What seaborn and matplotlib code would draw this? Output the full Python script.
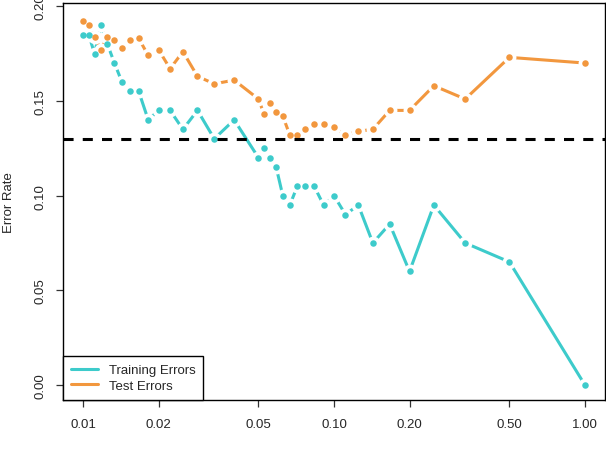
# KNN error rates versus flexibility (1/K)
import numpy as np
import pandas as pd
import seaborn as sns
import matplotlib.pyplot as plt
from matplotlib.lines import Line2D

# values
k_values = [100, 95, 90, 85, 80, 75, 70, 65, 60, 55, 50, 45, 40, 35, 30, 25,
            20, 19, 18, 17, 16, 15, 14, 13, 12, 11, 10, 9, 8, 7, 6, 5, 4, 3, 2, 1]
train_errors = [0.185, 0.185, 0.175, 0.190, 0.180, 0.170, 0.160, 0.155, 0.155,
                0.140, 0.145, 0.145, 0.135, 0.145, 0.130, 0.140,
                0.120, 0.125, 0.120, 0.115, 0.100, 0.095, 0.105, 0.105, 0.105,
                0.095, 0.100, 0.090, 0.095, 0.075, 0.085, 0.060, 0.095, 0.075,
                0.065, 0.000]
test_errors = [0.192, 0.190, 0.184, 0.177, 0.184, 0.182, 0.178, 0.182, 0.183,
               0.174, 0.177, 0.167, 0.176, 0.163, 0.159, 0.161,
               0.151, 0.143, 0.149, 0.144, 0.142, 0.132, 0.132, 0.135, 0.138,
               0.138, 0.136, 0.132, 0.134, 0.135, 0.145, 0.145, 0.158, 0.151,
               0.173, 0.170]
bayes_error = 0.13
series_names = ["Training Errors", "Test Errors"]
series_colors = ["#3DCBCB", "#F2973E"]
x_ticks = [0.01, 0.02, 0.05, 0.10, 0.20, 0.50, 1.00]
x_tick_labels = ["0.01", "0.02", "0.05", "0.10", "0.20", "0.50", "1.00"]
y_ticks = [0.00, 0.05, 0.10, 0.15, 0.20]
y_tick_labels = ["0.00", "0.05", "0.10", "0.15", "0.20"]

df = pd.DataFrame({"inv_k": 1 / np.array(k_values, dtype=float),
                   "Training Errors": train_errors,
                   "Test Errors": test_errors})
long_df = df.melt(id_vars="inv_k", var_name="series", value_name="error")

sns.set_style("ticks")
plt.rcParams['font.family'] = ['Liberation Sans', 'DejaVu Sans']

fig = plt.figure(figsize=(6.06, 4.52), dpi=100)
ax = fig.add_axes([63 / 606, 1 - 401 / 452, 542 / 606, 397 / 452])
ax.set_xscale("log")

# lines with white discs at the points (R type="b" look)
for name, col in zip(series_names, series_colors):
    sub = long_df[long_df["series"] == name]
    sns.lineplot(data=sub, x="inv_k", y="error", color=col, linewidth=2.2,
                 estimator=None, sort=False, marker="o", markersize=10,
                 markerfacecolor="white", markeredgewidth=0, ax=ax, zorder=2)

# dots on top
for name, col in zip(series_names, series_colors):
    sub = long_df[long_df["series"] == name]
    sns.scatterplot(data=sub, x="inv_k", y="error", color=col, s=22,
                    linewidth=0, ax=ax, zorder=3, legend=False)

ax.axhline(bayes_error, color="black", linewidth=2.2, linestyle=(0, (3.3, 3)), zorder=4)

ax.set_xlim(10 ** -2.08, 10 ** 0.08)
ax.set_ylim(-0.0079, 0.2017)
ax.set_xticks(x_ticks)
ax.set_xticklabels(x_tick_labels)
ax.minorticks_off()
ax.set_yticks(y_ticks)
ax.set_yticklabels(y_tick_labels, rotation=90, va="center")
ax.tick_params(axis="both", length=5, width=0.9, labelsize=9.5, color="#333333")
ax.tick_params(axis="x", pad=8)
ax.tick_params(axis="y", pad=7)

ax.set_xlabel("")
ax.set_ylabel("Error Rate", fontsize=9.5, va="center")
ax.yaxis.set_label_coords(-0.1, 0.5)

for sp in ax.spines.values():
    sp.set_visible(True)
    sp.set_color("black")
    sp.set_linewidth(1.0)

handles = [Line2D([], [], color=c, linewidth=2.2) for c in series_colors]
leg = ax.legend(handles, series_names, loc="lower left", bbox_to_anchor=(0, 0),
                borderaxespad=0, fancybox=False, framealpha=1, edgecolor="black",
                fontsize=9.5, handlelength=2.0, handletextpad=0.83,
                borderpad=0.62, labelspacing=0.25)
leg.get_frame().set_linewidth(1.0)
leg.set_zorder(5)

fig.savefig("out.png", dpi=100)
